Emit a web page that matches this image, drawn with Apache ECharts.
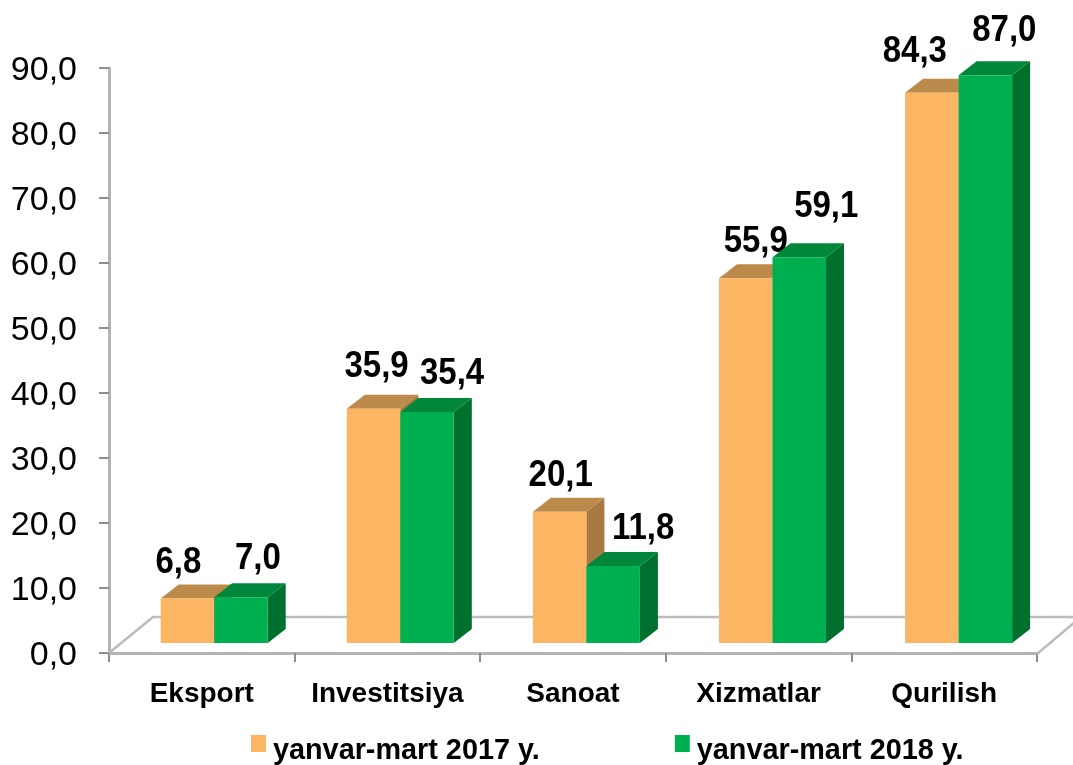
<!DOCTYPE html>
<html>
<head>
<meta charset="utf-8">
<title>yanvar-mart</title>
<style>
    html, body { margin: 0; padding: 0; background: #fff; }
    #chart { width: 1073px; height: 765px; }
</style>
<script src="https://cdn.jsdelivr.net/npm/echarts@6/dist/echarts.min.js"></script>
</head>
<body>
<div id="chart"></div>
<script>
var categories = ['Eksport', 'Investitsiya', 'Sanoat', 'Xizmatlar', 'Qurilish'];
var series2017 = [6.8, 35.9, 20.1, 55.9, 84.3];
var series2018 = [7.0, 35.4, 11.8, 59.1, 87.0];
var name2017 = 'yanvar-mart 2017 y.';
var name2018 = 'yanvar-mart 2018 y.';

// the value labels sit by hand in the original, so each has its own shift
var labelShift2017 = [[-9, -36], [3, -42], [1, -36], [10, -36], [-17, -41]];
var labelShift2018 = [[17, -38], [25, -38], [30, -37], [27, -50], [19, -44]];

var font = '"Liberation Sans", Arial, sans-serif';
var barWidth = 53.5;
var depthX = 18;
var depthY = 14;
var shiftX = 12.4;
var shiftY = -10;
var driftX = 0.5;
var stretchY = 1.004;

var chart = echarts.init(document.getElementById('chart'));

function comma(v) {
    return v.toFixed(1).replace('.', ',');
}

function pairData(values) {
    return values.map(function (v, i) {
        return [i, v];
    });
}

function poly(points, color) {
    return {
        type: 'polygon',
        shape: { points: points },
        style: { fill: color }
    };
}

// one box: front, top, side, and its value label
function boxRenderer(offset, colors, shifts) {
    return function (params, api) {
        var top = api.coord([api.value(0), api.value(1)]);
        var base = api.coord([api.value(0), 0]);
        var x0 = top[0] + shiftX + offset + driftX * api.value(0);
        var x1 = x0 + barWidth;
        var y1 = base[1] + shiftY;
        var y0 = y1 - (base[1] - top[1]) * stretchY;
        var s = shifts[params.dataIndex];
        return {
            type: 'group',
            children: [
                poly([[x1, y0], [x1 + depthX, y0 - depthY], [x1 + depthX, y1 - depthY], [x1, y1]], colors[2]),
                poly([[x0, y0], [x0 + depthX, y0 - depthY], [x1 + depthX, y0 - depthY], [x1, y0]], colors[1]),
                poly([[x0, y0], [x1, y0], [x1, y1], [x0, y1]], colors[0]),
                {
                    type: 'text',
                    z2: 10,
                    x: (x0 + x1) / 2 + s[0],
                    y: y0 + s[1],
                    scaleY: 1.1,
                    style: {
                        text: comma(api.value(1)),
                        x: 0,
                        y: 0,
                        fill: '#000',
                        font: 'bold 33px ' + font,
                        align: 'center',
                        verticalAlign: 'middle'
                    }
                }
            ]
        };
    };
}

function floorRenderer(params) {
    var c = params.coordSys;
    var bottom = c.y + c.height;
    var right = c.x + c.width;
    var lineStyle = { stroke: '#bcbcbc', lineWidth: 2.5, fill: null };
    return {
        type: 'polyline',
        shape: {
            points: [
                [c.x, bottom],
                [c.x + 44, bottom - 36],
                [right + 44, bottom - 36],
                [right, bottom + 1]
            ]
        },
        style: lineStyle
    };
}

var option = {
    animation: false,
    backgroundColor: '#fff',
    textStyle: { fontFamily: font },
    grid: { left: 109, right: 36, top: 68, bottom: 112 },
    legend: {
        left: 246,
        top: 730,
        itemWidth: 15,
        itemHeight: 17,
        itemGap: 135,
        icon: 'rect',
        selectedMode: false,
        data: [name2017, name2018],
        formatter: '{t|{name}}',
        textStyle: {
            color: '#000',
            rich: {
                t: {
                    color: '#000',
                    fontFamily: font,
                    fontWeight: 'bold',
                    fontSize: 28.8,
                    padding: [15, 0, 0, 2]
                }
            }
        }
    },
    xAxis: {
        type: 'category',
        data: categories,
        axisLine: { lineStyle: { color: '#b4b4b4', width: 3 } },
        axisTick: { show: true, length: 9, lineStyle: { color: '#8e8e8e', width: 2 } },
        axisLabel: {
            color: '#000',
            fontFamily: font,
            fontWeight: 'bold',
            fontSize: 28,
            margin: 27,
            interval: 0
        }
    },
    yAxis: {
        type: 'value',
        min: 0,
        max: 90,
        interval: 10,
        splitLine: { show: false },
        axisLine: { show: true, lineStyle: { color: '#b4b4b4', width: 3 } },
        axisTick: { show: true, length: 10, lineStyle: { color: '#8e8e8e', width: 2 } },
        axisLabel: {
            margin: 32,
            formatter: function (v) {
                return '{v|' + comma(v) + '}';
            },
            rich: {
                v: {
                    color: '#000',
                    fontFamily: font,
                    fontSize: 34,
                    padding: [6, 0, 0, 0]
                }
            }
        }
    },
    series: [
        {
            type: 'custom',
            name: 'floor',
            z: 1,
            silent: true,
            clip: false,
            data: [[0, 0]],
            renderItem: floorRenderer
        },
        {
            type: 'custom',
            name: name2017,
            z: 2,
            silent: true,
            clip: false,
            itemStyle: { color: '#fbb563' },
            encode: { x: 0, y: 1 },
            data: pairData(series2017),
            renderItem: boxRenderer(-barWidth, ['#fbb563', '#bc8a4b', '#a67a40'], labelShift2017)
        },
        {
            type: 'custom',
            name: name2018,
            z: 3,
            silent: true,
            clip: false,
            itemStyle: { color: '#00b050' },
            encode: { x: 0, y: 1 },
            data: pairData(series2018),
            renderItem: boxRenderer(0, ['#00b050', '#00873c', '#00702f'], labelShift2018)
        }
    ]
};

chart.setOption(option);
</script>
</body>
</html>
